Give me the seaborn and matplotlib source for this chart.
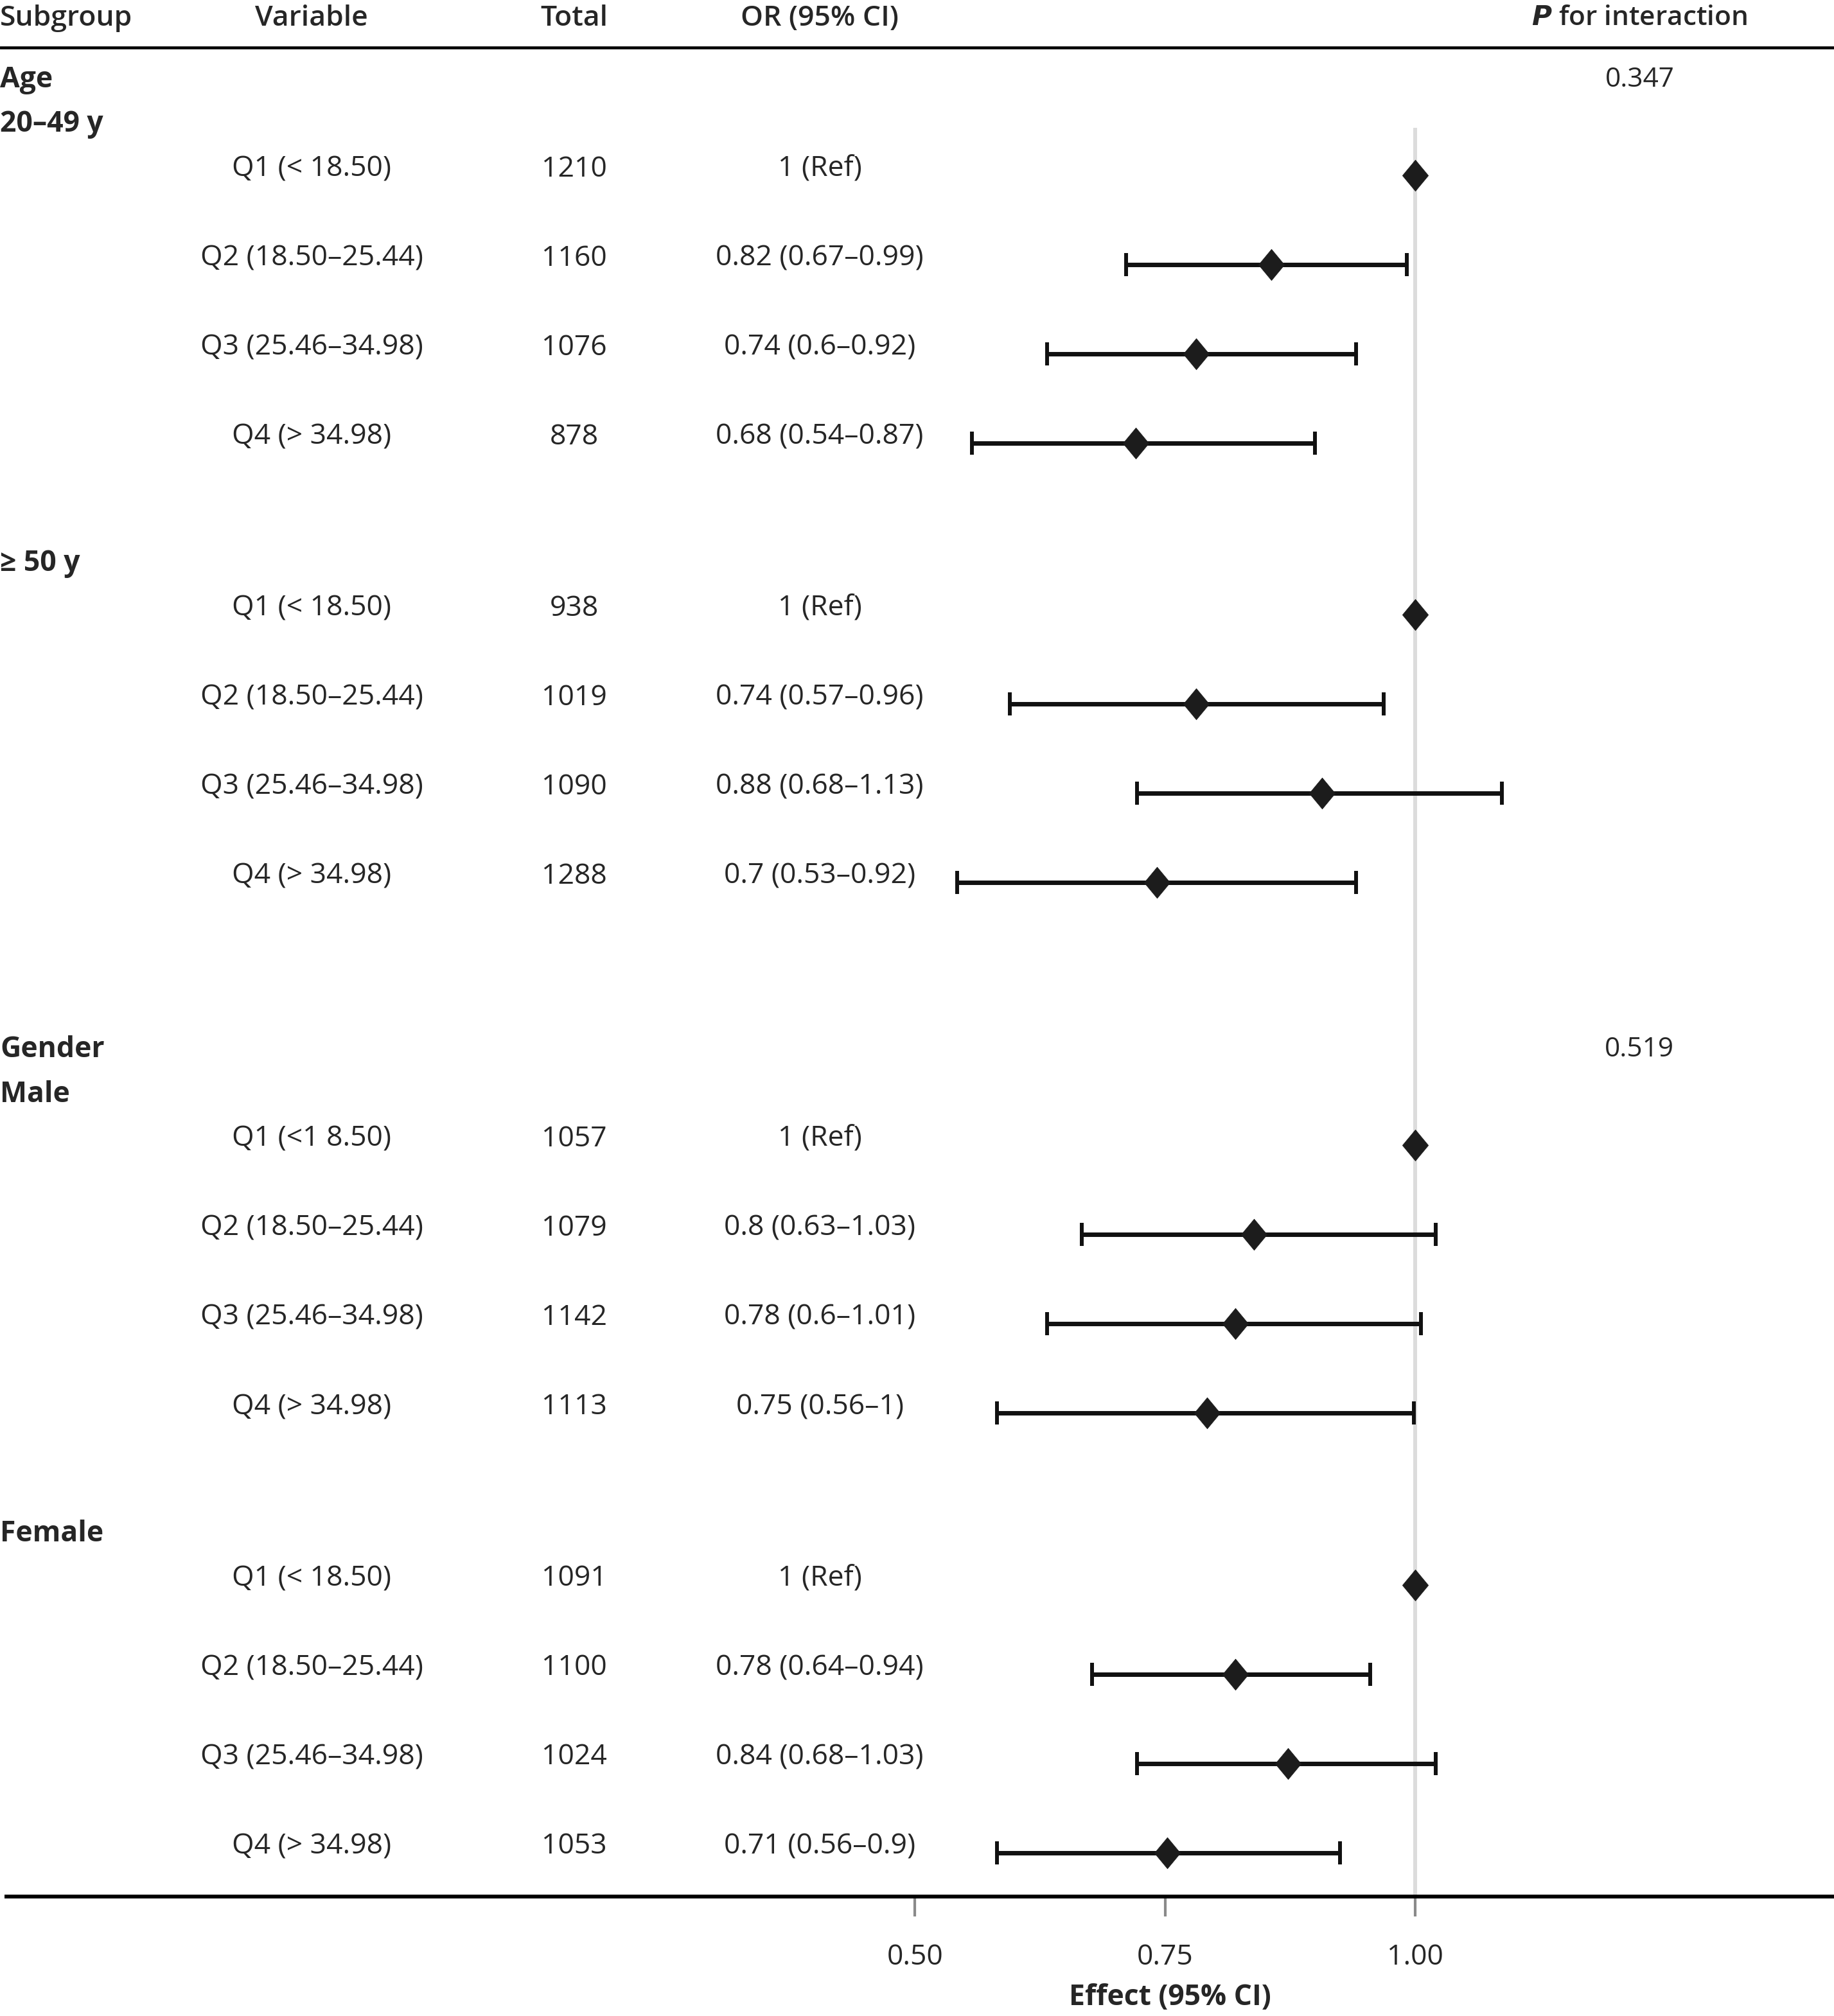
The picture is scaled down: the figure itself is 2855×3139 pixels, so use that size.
import numpy as np
import pandas as pd
import matplotlib
matplotlib.use("Agg")
import matplotlib.pyplot as plt
import seaborn as sns

sns.set_style("white")
plt.rcParams['font.family'] = ['Open Sans', 'DejaVu Sans']
NARROW = ['Liberation Sans Narrow', 'Open Sans', 'DejaVu Sans']

# --- data ---
groups = ["Age", "Gender"]
group_p = ["0.347", "0.519"]
subgroups = ["20–49 y", "≥ 50 y", "Male", "Female"]
variables = [
    "Q1 (< 18.50)", "Q2 (18.50–25.44)", "Q3 (25.46–34.98)", "Q4 (> 34.98)",
    "Q1 (< 18.50)", "Q2 (18.50–25.44)", "Q3 (25.46–34.98)", "Q4 (> 34.98)",
    "Q1 (<1 8.50)", "Q2 (18.50–25.44)", "Q3 (25.46–34.98)", "Q4 (> 34.98)",
    "Q1 (< 18.50)", "Q2 (18.50–25.44)", "Q3 (25.46–34.98)", "Q4 (> 34.98)",
]
totals = [1210, 1160, 1076, 878,
          938, 1019, 1090, 1288,
          1057, 1079, 1142, 1113,
          1091, 1100, 1024, 1053]
or_labels = [
    "1 (Ref)", "0.82 (0.67–0.99)", "0.74 (0.6–0.92)", "0.68 (0.54–0.87)",
    "1 (Ref)", "0.74 (0.57–0.96)", "0.88 (0.68–1.13)", "0.7 (0.53–0.92)",
    "1 (Ref)", "0.8 (0.63–1.03)", "0.78 (0.6–1.01)", "0.75 (0.56–1)",
    "1 (Ref)", "0.78 (0.64–0.94)", "0.84 (0.68–1.03)", "0.71 (0.56–0.9)",
]
# positions of the drawn marks
or_est = [1.00, 0.856, 0.781, 0.721,
          1.00, 0.781, 0.907, 0.742,
          1.00, 0.839, 0.820, 0.792,
          1.00, 0.820, 0.873, 0.752]
ci_low = [np.nan, 0.711, 0.632, 0.557,
          np.nan, 0.595, 0.722, 0.542,
          np.nan, 0.667, 0.632, 0.582,
          np.nan, 0.677, 0.722, 0.582]
ci_high = [np.nan, 0.992, 0.941, 0.900,
           np.nan, 0.969, 1.087, 0.941,
           np.nan, 1.021, 1.006, 0.999,
           np.nan, 0.955, 1.021, 0.925]
xticks = [0.50, 0.75, 1.00]

# --- row layout (one unit = one variable row) ---
subs_per_group = 2
rows_per_sub = 4
gap_sub = 1.42
gap_group = 1.94
y = 0.0
group_y, sub_y, row_y = [], [], []
for g in range(len(groups)):
    if g > 0:
        y = row_y[-1] + gap_group
    group_y.append(y)
    y += 0.5
    for s in range(subs_per_group):
        if s > 0:
            y = row_y[-1] + gap_sub
        sub_y.append(y)
        y += 0.5
        for r in range(rows_per_sub):
            row_y.append(y + r)

df = pd.DataFrame({
    "variable": variables, "total": totals, "label": or_labels,
    "est": or_est, "lo": ci_low, "hi": ci_high, "y": row_y,
})
df["ym"] = df["y"] + 0.1
dy = 0.03  # text nudge

fig = plt.figure(figsize=(28.55, 31.39), dpi=100)
ax = fig.add_axes([0, 0.0593, 1, 0.9407])
xmin, xmax = -0.415, 1.419
ax.set_xlim(xmin, xmax)
ax.set_ylim(20.37, -0.863)

# reference line at 1
ax.vlines(1.0, sub_y[0] + 0.07, 20.37, color="#dcdcdc", lw=4.3, zorder=1)

# confidence intervals
ci = df.dropna(subset=["lo"])
ax.errorbar(ci["est"], ci["ym"], xerr=[ci["est"] - ci["lo"], ci["hi"] - ci["est"]],
            fmt="none", ecolor="#111111", elinewidth=5.0, capsize=13,
            capthick=4.3, zorder=2)
diamond = [(0, 1), (0.83, 0), (0, -1), (-0.83, 0), (0, 1)]
sns.scatterplot(data=df, x="est", y="ym", marker=diamond, s=35 ** 2, color="#1c1c1c",
                edgecolor="#1c1c1c", linewidth=0.5, zorder=3, ax=ax, legend=False)

fs = 32
tr = ax.get_yaxis_transform()
# header
hy = -0.69 + dy
ax.text(0.0, hy, "Subgroup", transform=tr, ha="left", va="center",
        fontsize=fs, fontweight="semibold", family=NARROW)
for xf, txt in [(0.170, "Variable"), (0.313, "Total"), (0.447, "OR (95% CI)")]:
    ax.text(xf, hy, txt, transform=tr, ha="center", va="center",
            fontsize=fs, fontweight="semibold", family=NARROW)
ax.text(0.894, hy, r"$\mathbfit{P}$ for interaction", transform=tr,
        ha="center", va="center", fontsize=30.5, fontweight="semibold")
ax.axhline(-0.331, color="black", lw=3.3)

for g, gy in enumerate(group_y):
    ax.text(0.0, gy + dy, groups[g], transform=tr, ha="left", va="center",
            fontsize=fs, fontweight="bold", family=NARROW)
    ax.text(0.894, gy + dy, group_p[g], transform=tr, ha="center",
            va="center", fontsize=30.5)
for s, sy in enumerate(sub_y):
    ax.text(0.0, sy + dy, subgroups[s], transform=tr, ha="left",
            va="center", fontsize=fs, fontweight="bold", family=NARROW)
for _, row in df.iterrows():
    ax.text(0.170, row["y"] + dy, row["variable"], transform=tr,
            ha="center", va="center", fontsize=fs, family=NARROW)
    ax.text(0.313, row["y"] + dy, str(row["total"]), transform=tr,
            ha="center", va="center", fontsize=fs, family=NARROW)
    ax.text(0.447, row["y"] + dy, row["label"], transform=tr,
            ha="center", va="center", fontsize=fs, family=NARROW)

# axis styling
for side in ["top", "left", "right"]:
    ax.spines[side].set_visible(False)
ax.spines["bottom"].set_linewidth(4.3)
ax.spines["bottom"].set_color("black")
ax.spines["bottom"].set_bounds(xmin + 0.0065, xmax)
ax.set_yticks([])
ax.set_xticks(xticks)
ax.set_xticklabels([f"{t:.2f}" for t in xticks], family=NARROW)
ax.tick_params(axis="x", bottom=True, direction="out", length=22, width=3.0,
               color="#8a8a8a", pad=30, labelsize=fs)
ax.set_xlabel("Effect (95% CI)", fontsize=fs, fontweight="bold", family=NARROW)
ax.xaxis.set_label_coords(0.638, -0.0535)
ax.xaxis.label.set_va("center")
ax.set_ylabel("")

fig.savefig("out.png", dpi=100)
